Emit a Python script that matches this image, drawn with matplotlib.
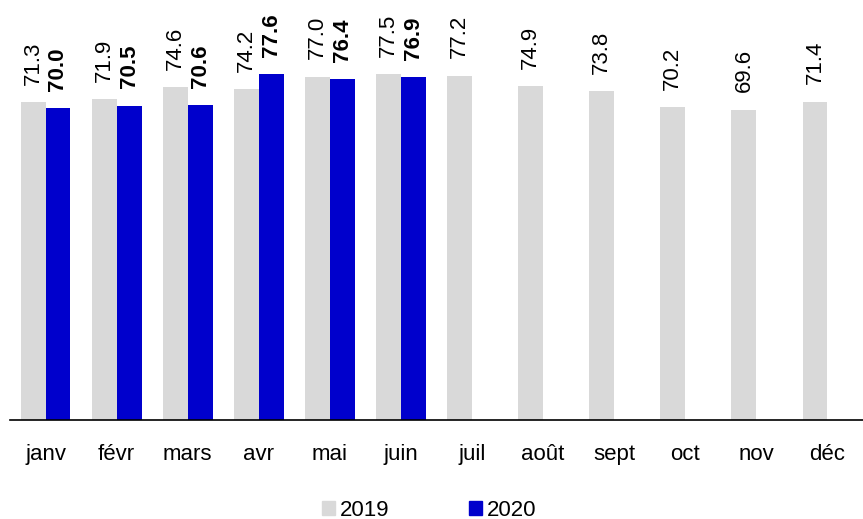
import numpy as np
import matplotlib.pyplot as plt
from matplotlib.patches import Patch

plt.rcParams['font.family'] = ['Liberation Sans', 'DejaVu Sans']

months = ["janv", "févr", "mars", "avr", "mai", "juin", "juil",
          "août", "sept", "oct", "nov", "déc"]
v2019 = [71.3, 71.9, 74.6, 74.2, 77.0, 77.5, 77.2, 74.9, 73.8, 70.2, 69.6, 71.4]
v2020 = [70.0, 70.5, 70.6, 77.6, 76.4, 76.9]

gray = "#d9d9d9"
blue = "#0000cc"

fig = plt.figure(figsize=(8.63, 5.19), dpi=100)
ax = fig.add_axes([10 / 863, 1 - 420 / 519, 853 / 863, 420 / 519])

x = np.arange(len(months))
w = 0.35
ax.bar(x - w / 2, v2019, w, color=gray)
ax.bar(x[:len(v2020)] + w / 2, v2020, w, color=blue)

# value labels, rotated, above each bar
for xi, v in zip(x, v2019):
    ax.annotate(f"{v:.1f}", (xi - w / 2, v), xytext=(0, 12.5), textcoords="offset points",
                rotation=90, ha="center", va="bottom", fontsize=16)
for xi, v in zip(x, v2020):
    ax.annotate(f"{v:.1f}", (xi + w / 2, v), xytext=(0, 12.5), textcoords="offset points",
                rotation=90, ha="center", va="bottom", fontsize=16, fontweight="bold")

ax.set_xlim(-0.5, len(months) - 0.5)
ax.set_ylim(0, 94.2)
ax.set_xticks(x)
ax.set_xticklabels(months, fontsize=16)
ax.tick_params(axis="x", length=0, pad=17)
ax.set_yticks([])
for s in ["left", "right", "top"]:
    ax.spines[s].set_visible(False)
ax.spines["bottom"].set_linewidth(1.2)

handles = [Patch(color=gray, label="2019"), Patch(color=blue, label="2020")]
fig.legend(handles=handles, loc="center", bbox_to_anchor=(429 / 863, 1 - 510 / 519),
           ncol=2, frameon=False, fontsize=16, handlelength=0.6, handleheight=0.6,
           handletextpad=0.2, columnspacing=3.6)

fig.savefig("out.png", dpi=100)
